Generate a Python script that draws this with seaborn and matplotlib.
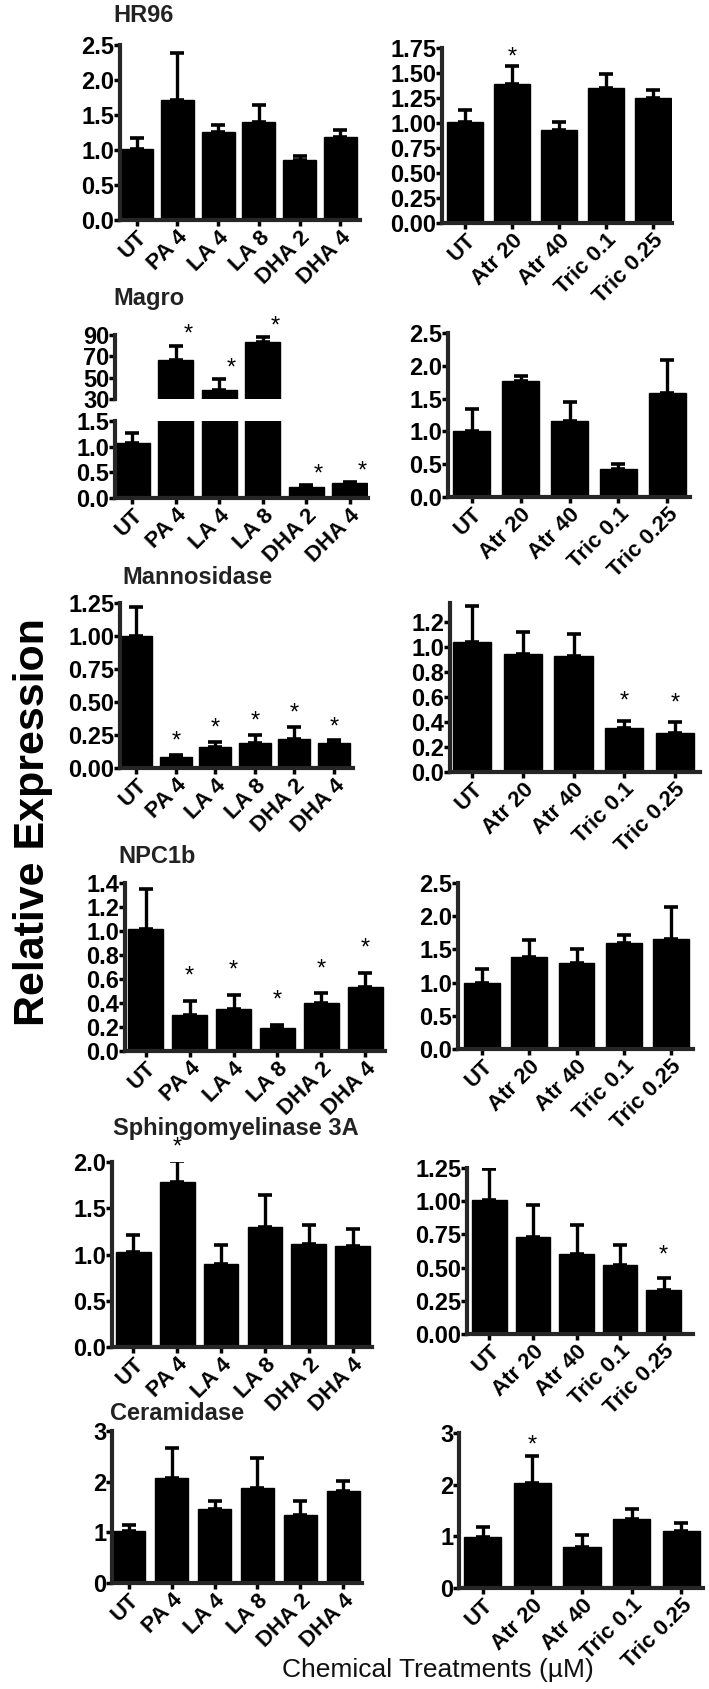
import numpy as np
import pandas as pd
import matplotlib
matplotlib.use("Agg")
import matplotlib.pyplot as plt
import seaborn as sns

# ---- data ----
fa_trt = ['UT', 'PA 4', 'LA 4', 'LA 8', 'DHA 2', 'DHA 4']
pe_trt = ['UT', 'Atr 20', 'Atr 40', 'Tric 0.1', 'Tric 0.25']

hr96_fa_mean = [1.02, 1.71, 1.26, 1.40, 0.86, 1.18]
hr96_fa_sem = [0.15, 0.67, 0.10, 0.24, 0.05, 0.11]
hr96_fa_sig = []
hr96_pe_mean = [1.01, 1.39, 0.93, 1.35, 1.25]
hr96_pe_sem = [0.12, 0.18, 0.08, 0.14, 0.08]
hr96_pe_sig = [1]

magro_fa_mean = [1.08, 66.8, 38.8, 83.0, 0.22, 0.29]
magro_fa_sem = [0.19, 13.2, 10.2, 5.0, 0.04, 0.02]
magro_fa_sig = [1, 2, 3, 4, 5]
magro_pe_mean = [1.01, 1.77, 1.16, 0.42, 1.58]
magro_pe_sem = [0.33, 0.08, 0.29, 0.09, 0.51]
magro_pe_sig = []

mann_fa_mean = [1.00, 0.083, 0.16, 0.19, 0.22, 0.19]
mann_fa_sem = [0.22, 0.017, 0.04, 0.06, 0.09, 0.02]
mann_fa_sig = [1, 2, 3, 4, 5]
mann_pe_mean = [1.04, 0.94, 0.925, 0.35, 0.31]
mann_pe_sem = [0.29, 0.18, 0.175, 0.06, 0.09]
mann_pe_sig = [3, 4]

npc_fa_mean = [1.02, 0.30, 0.35, 0.19, 0.40, 0.53]
npc_fa_sem = [0.33, 0.12, 0.12, 0.03, 0.08, 0.12]
npc_fa_sig = [1, 2, 3, 4, 5]
npc_pe_mean = [1.00, 1.39, 1.30, 1.60, 1.66]
npc_pe_sem = [0.21, 0.25, 0.21, 0.11, 0.48]
npc_pe_sig = []

smase_fa_mean = [1.03, 1.78, 0.90, 1.30, 1.11, 1.09]
smase_fa_sem = [0.18, 0.23, 0.20, 0.34, 0.21, 0.19]
smase_fa_sig = [1]
smase_pe_mean = [1.01, 0.73, 0.60, 0.52, 0.335]
smase_pe_sem = [0.23, 0.24, 0.22, 0.15, 0.085]
smase_pe_sig = [4]

cer_fa_mean = [1.03, 2.08, 1.47, 1.88, 1.34, 1.82]
cer_fa_sem = [0.11, 0.58, 0.15, 0.59, 0.28, 0.19]
cer_fa_sig = []
cer_pe_mean = [0.99, 2.03, 0.80, 1.34, 1.10]
cer_pe_sem = [0.20, 0.53, 0.23, 0.19, 0.15]
cer_pe_sig = [1]

gene_titles = ['HR96', 'Magro', 'Mannosidase', 'NPC1b', 'Sphingomyelinase 3A', 'Ceramidase']

# ---- style ----
sns.set_theme(style="ticks")
plt.rcParams['font.family'] = ['Liberation Sans', 'DejaVu Sans']
plt.rcParams['axes.linewidth'] = 3.0

W, H = 709, 1689
fig = plt.figure(figsize=(W / 100, H / 100), dpi=100)


def add_ax(left, top, right, bottom):
    return fig.add_axes([left / W, 1 - bottom / H, (right - left) / W, (bottom - top) / H])


def draw(ax, labels, mean, sem, sig, ylim, yticks, fmt, geom, star_gap,
         star_dx=0.0, show_x=True, bottom_spine=True):
    n = len(labels)
    L, R, first_left, last_right, wf = geom
    df = pd.DataFrame({'trt': labels, 'val': mean})
    sns.barplot(data=df, x='trt', y='val', order=labels, color='black',
                saturation=1, width=wf, ax=ax, edgecolor='black', linewidth=1)
    x = np.arange(n)
    ax.errorbar(x, mean, yerr=[np.zeros(n), sem], fmt='none', ecolor='black',
                elinewidth=2.4, capsize=5, capthick=2.6, zorder=1)
    s = (last_right - first_left) / (n - 1 + wf)
    ax.set_xlim(-wf / 2 - (first_left - L) / s, n - 1 + wf / 2 + (R - last_right) / s)
    ax.set_ylim(*ylim)
    ax.set_yticks(yticks)
    ax.set_yticklabels([fmt.format(t) for t in yticks], fontweight='bold')
    ax.set_xlabel('')
    ax.set_ylabel('')
    sns.despine(ax=ax)
    ax.tick_params(axis='y', length=4, width=2.5, pad=0, labelsize=17, colors='black')
    ax.tick_params(axis='x', length=4, width=2.5, pad=1, labelsize=16, colors='black')
    if show_x:
        ax.set_xticks(x)
        ax.set_xticklabels(labels, rotation=45, ha='right', rotation_mode='anchor',
                           fontweight='bold')
    else:
        ax.set_xticks([])
    if not bottom_spine:
        ax.spines['bottom'].set_visible(False)
    for i in sig:
        top = mean[i] + sem[i]
        if ylim[0] <= top <= ylim[1] * 1.2:
            ax.text(i + star_dx, top + star_gap, '*', ha='center', va='center',
                    fontsize=17, color='black', clip_on=False)


# Row 1: HR96
draw(add_ax(120, 45, 360, 220), fa_trt, hr96_fa_mean, hr96_fa_sem, hr96_fa_sig,
     (0, 2.5), [0, 0.5, 1.0, 1.5, 2.0, 2.5], '{:.1f}', (120, 360, 120, 357, 0.81), 0.15)
draw(add_ax(442, 48, 672, 223), pe_trt, hr96_pe_mean, hr96_pe_sem, hr96_pe_sig,
     (0, 1.75), [0, 0.25, 0.5, 0.75, 1.0, 1.25, 1.5, 1.75], '{:.2f}',
     (442, 672, 447, 671, 0.76), 0.08)

# Row 2: Magro (broken axis on the left panel)
ax_up = add_ax(115, 335, 368, 399)
draw(ax_up, fa_trt, magro_fa_mean, magro_fa_sem, [1, 2, 3], (30, 90), [30, 50, 70, 90],
     '{:.0f}', (115, 368, 115, 367, 0.8), 10, star_dx=0.28, show_x=False,
     bottom_spine=False)
ax_lo = add_ax(115, 421, 368, 498)
draw(ax_lo, fa_trt, magro_fa_mean, magro_fa_sem, [4, 5], (0, 1.5), [0, 0.5, 1.0, 1.5],
     '{:.1f}', (115, 368, 115, 367, 0.8), 0.2, star_dx=0.28)
draw(add_ax(448, 333, 690, 497), pe_trt, magro_pe_mean, magro_pe_sem, magro_pe_sig,
     (0, 2.5), [0, 0.5, 1.0, 1.5, 2.0, 2.5], '{:.1f}', (448, 690, 453, 686, 0.76), 0.15)

# Row 3: Mannosidase
draw(add_ax(120, 603, 353, 768), fa_trt, mann_fa_mean, mann_fa_sem, mann_fa_sig,
     (0, 1.25), [0, 0.25, 0.5, 0.75, 1.0, 1.25], '{:.2f}', (120, 353, 120, 350, 0.82), 0.1)
draw(add_ax(450, 603, 700, 772), pe_trt, mann_pe_mean, mann_pe_sem, mann_pe_sig,
     (0, 1.35), [0, 0.2, 0.4, 0.6, 0.8, 1.0, 1.2], '{:.1f}', (450, 700, 453, 694, 0.76), 0.15)

# Row 4: NPC1b
draw(add_ax(125, 883, 385, 1051), fa_trt, npc_fa_mean, npc_fa_sem, npc_fa_sig,
     (0, 1.4), [0, 0.2, 0.4, 0.6, 0.8, 1.0, 1.2, 1.4], '{:.1f}', (125, 385, 128, 383, 0.8), 0.2)
draw(add_ax(458, 883, 693, 1049), pe_trt, npc_pe_mean, npc_pe_sem, npc_pe_sig,
     (0, 2.5), [0, 0.5, 1.0, 1.5, 2.0, 2.5], '{:.1f}', (458, 693, 464, 689, 0.76), 0.15)

# Row 5: Sphingomyelinase 3A
draw(add_ax(112, 1162, 372, 1347), fa_trt, smase_fa_mean, smase_fa_sem, smase_fa_sig,
     (0, 2.0), [0, 0.5, 1.0, 1.5, 2.0], '{:.1f}', (112, 372, 116, 370, 0.79), 0.15)
draw(add_ax(467, 1168, 693, 1334), pe_trt, smase_pe_mean, smase_pe_sem, smase_pe_sig,
     (0, 1.25), [0, 0.25, 0.5, 0.75, 1.0, 1.25], '{:.2f}', (467, 693, 472, 681, 0.8), 0.17)

# Row 6: Ceramidase
draw(add_ax(112, 1431, 362, 1583), fa_trt, cer_fa_mean, cer_fa_sem, cer_fa_sig,
     (0, 3), [0, 1, 2, 3], '{:.0f}', (112, 362, 112, 360, 0.78), 0.2)
draw(add_ax(459, 1433, 703, 1588), pe_trt, cer_pe_mean, cer_pe_sem, cer_pe_sig,
     (0, 3), [0, 1, 2, 3], '{:.0f}', (459, 703, 464, 700, 0.75), 0.2)

# gene titles
title_pos = [(113, 15), (113, 298), (122, 577), (118, 856), (113, 1129), (110, 1414)]
for t, (tx, ty) in zip(gene_titles, title_pos):
    fig.text(tx / W, 1 - ty / H, t, ha='left', va='center', fontsize=17,
             fontweight='bold', color='#222222')

fig.text(33 / W, 1 - 822 / H, 'Relative Expression', rotation=90, ha='center',
         va='center', fontsize=31, fontweight='bold', color='black')
fig.text(438 / W, 1 - 1670 / H, 'Chemical Treatments (µM)', ha='center', va='center',
         fontsize=19, color='#111111')

fig.savefig('out.png', dpi=100)
